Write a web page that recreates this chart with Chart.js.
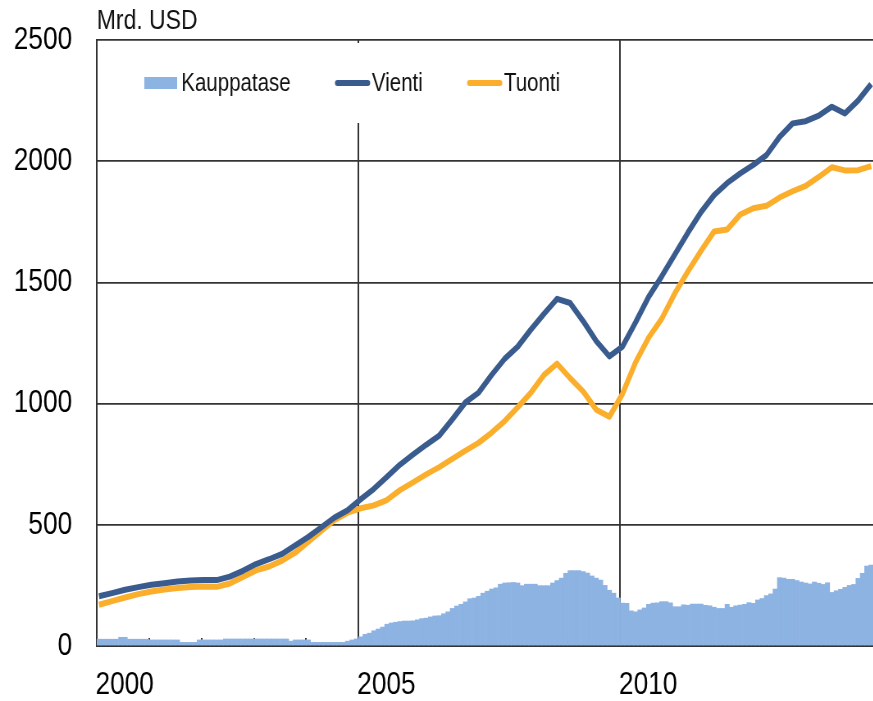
<!DOCTYPE html>
<html>
<head>
<meta charset="utf-8">
<script src="https://cdn.jsdelivr.net/npm/chart.js@4.4.1/dist/chart.umd.min.js"></script>
<style>
  html, body { margin: 0; padding: 0; background: #fff; overflow: hidden; }
  /* Arial Narrow -tyyli: piirretään leveämpänä ja kavennetaan vaakasuunnassa */
  #wrap { width: 1065px; height: 701px; transform: scaleX(0.82); transform-origin: 0 0; }
  #tradeChart { width: 1065px; height: 701px; display: block; }
</style>
</head>
<body>
<div id="wrap"><canvas id="tradeChart" width="1065" height="701"></canvas></div>
<script>
const FONT = "'Liberation Sans', Arial, sans-serif";

const startYear = 2000;
const yearLabels = [2000, 2005, 2010];
const gridYears = [2005, 2010];
const seriesNames = ['Kauppatase', 'Vienti', 'Tuonti'];
const seriesColors = ['#8db3e2', '#3a5b8e', '#fbae2b'];

// 12 kk liukuva summa, mrd. USD, kuukausittain 1/2000 - 10/2014
const balance = [
  28, 28, 28, 28, 28, 36, 36, 28, 28, 28, 28, 28,
  25, 25, 25, 25, 25, 25, 25, 15, 15, 15, 15, 25,
  25, 25, 25, 25, 25, 29, 29, 29, 29, 29, 29, 29,
  29, 29, 29, 29, 29, 29, 29, 29, 20, 25, 25, 25,
  25, 15, 15, 15, 15, 15, 15, 15, 15, 20, 25, 29,
  38, 48, 53, 63, 70, 78, 90, 95, 98, 101, 103, 103,
  104, 108, 113, 115, 120, 124, 125, 133, 141, 155, 165, 172,
  182, 195, 198, 205, 218, 226, 235, 240, 255, 260, 261, 262,
  260, 249, 255, 255, 255, 249, 249, 249, 260, 270, 280, 300,
  311, 311, 311, 307, 301, 289, 280, 272, 250, 230, 218, 198,
  177, 176, 145, 141, 149, 157, 172, 177, 178, 183, 183, 178,
  162, 162, 170, 168, 173, 173, 173, 168, 166, 160, 155, 155,
  172, 160, 166, 169, 172, 179, 176, 190, 196, 208, 215, 235,
  282, 280, 275, 275, 270, 264, 260, 256, 264, 259, 254, 261,
  221, 228, 234, 242, 250, 254, 279, 300, 330, 334
];

// neljännesvuosittain (tammi, huhti, heinä, loka) 1/2000 - 10/2014
const exports = [
  205, 218, 232, 243, 253, 259, 266, 270, 272, 272,
  286, 310, 338, 358, 380, 415, 450, 490, 530, 560,
  605, 648, 698, 748, 790, 830, 868, 935, 1005, 1045,
  1118, 1185, 1235, 1305, 1370, 1432, 1415, 1340, 1258, 1195,
  1235, 1335, 1440, 1525, 1615, 1705, 1790, 1860, 1910, 1950,
  1985, 2025, 2100, 2156, 2165, 2188, 2225, 2197, 2250, 2318
];
const imports = [
  170, 185, 200, 214, 225, 233, 239, 243, 245, 244,
  258, 285, 312, 328, 352, 385, 430, 475, 520, 550,
  568, 580, 602, 643, 675, 708, 738, 772, 806, 838,
  880, 928, 985, 1045, 1118, 1165, 1105, 1050, 975, 946,
  1040, 1170, 1272, 1350, 1455, 1545, 1630, 1710, 1718, 1780,
  1806, 1816, 1850, 1876, 1898, 1935, 1975, 1962, 1963, 1980
];

// kuukausi -> vuosiluku (kuukauden keskikohta)
const monthPos = m => startYear + (m + 0.5) / 12;
const barPoints = balance.map((v, i) => ({ x: monthPos(i), y: v }));
const exportPoints = exports.map((v, i) => ({ x: monthPos(i * 3), y: v }));
const importPoints = imports.map((v, i) => ({ x: monthPos(i * 3), y: v }));

// selite piirtoalueen sisällä, valkoinen tausta
const plotLegend = {
  id: 'plotLegend',
  beforeDatasetsDraw(chart) {
    const { ctx, chartArea } = chart;
    ctx.save();
    ctx.fillStyle = '#fff';
    ctx.fillRect(chartArea.left + 43, chartArea.top + 3, 561, 80);
    ctx.restore();
  },
  afterDatasetsDraw(chart) {
    const { ctx, chartArea } = chart;
    const y = chartArea.top + 43;
    let x = chartArea.left + 58;
    ctx.save();
    ctx.font = "25px " + FONT;
    ctx.textBaseline = 'middle';
    chart.data.datasets.forEach(ds => {
      if (ds.type === 'bar') {
        ctx.fillStyle = ds.backgroundColor;
        ctx.fillRect(x, y - 6, 40, 12);
      } else {
        ctx.strokeStyle = ds.borderColor;
        ctx.lineWidth = 6;
        ctx.lineCap = 'round';
        ctx.beginPath();
        ctx.moveTo(x + 3, y);
        ctx.lineTo(x + 40, y);
        ctx.stroke();
      }
      ctx.fillStyle = '#111';
      ctx.fillText(ds.label, x + 45, y + 1);
      x += 45 + ctx.measureText(ds.label).width + 54;
    });
    ctx.restore();
  }
};

new Chart(document.getElementById('tradeChart'), {
  data: {
    datasets: [
      {
        type: 'bar',
        label: seriesNames[0],
        data: barPoints,
        backgroundColor: seriesColors[0],
        borderWidth: 0,
        barPercentage: 1,
        categoryPercentage: 1,
        order: 3
      },
      {
        type: 'line',
        label: seriesNames[1],
        data: exportPoints,
        borderColor: seriesColors[1],
        borderWidth: 6,
        pointRadius: 0,
        tension: 0,
        borderJoinStyle: 'round',
        order: 1
      },
      {
        type: 'line',
        label: seriesNames[2],
        data: importPoints,
        borderColor: seriesColors[2],
        borderWidth: 6,
        pointRadius: 0,
        tension: 0,
        borderJoinStyle: 'round',
        order: 2
      }
    ]
  },
  options: {
    responsive: false,
    animation: false,
    layout: { padding: 0 },
    plugins: {
      legend: { display: false },
      tooltip: { enabled: false },
      title: {
        display: true,
        text: 'Mrd. USD',
        align: 'start',
        fullSize: false,
        color: '#111',
        font: { family: FONT, size: 28, weight: 'normal', lineHeight: 1 },
        padding: { top: 7, bottom: 5 }
      }
    },
    scales: {
      x: {
        type: 'linear',
        offset: false,
        min: startYear,
        max: monthPos(balance.length - 0.5),
        afterFit: s => { s.height = 55; },
        border: { color: '#333', width: 2 },
        grid: {
          offset: false,
          color: c => gridYears.includes(c.tick && c.tick.value) ? '#333' : 'rgba(0,0,0,0)',
          lineWidth: 2,
          tickColor: '#333',
          tickWidth: 2,
          tickLength: -8
        },
        ticks: {
          stepSize: 1,
          includeBounds: false,
          autoSkip: false,
          maxRotation: 0,
          labelOffset: 34,
          padding: 31,
          color: '#000',
          font: { family: FONT, size: 32, lineHeight: 1 },
          callback: v => yearLabels.includes(v) ? String(v) : ''
        }
      },
      y: {
        min: 0,
        max: 2500,
        afterFit: s => { s.width = 118; s.paddingTop = 0; s.paddingBottom = 0; },
        border: { color: '#333', width: 2 },
        grid: { color: '#333', lineWidth: 1.8, drawTicks: false },
        ticks: {
          stepSize: 500,
          padding: 30,
          color: '#000',
          font: { family: FONT, size: 32, lineHeight: 1 },
          callback: v => String(v)
        }
      }
    }
  },
  plugins: [plotLegend]
});
</script>
</body>
</html>
